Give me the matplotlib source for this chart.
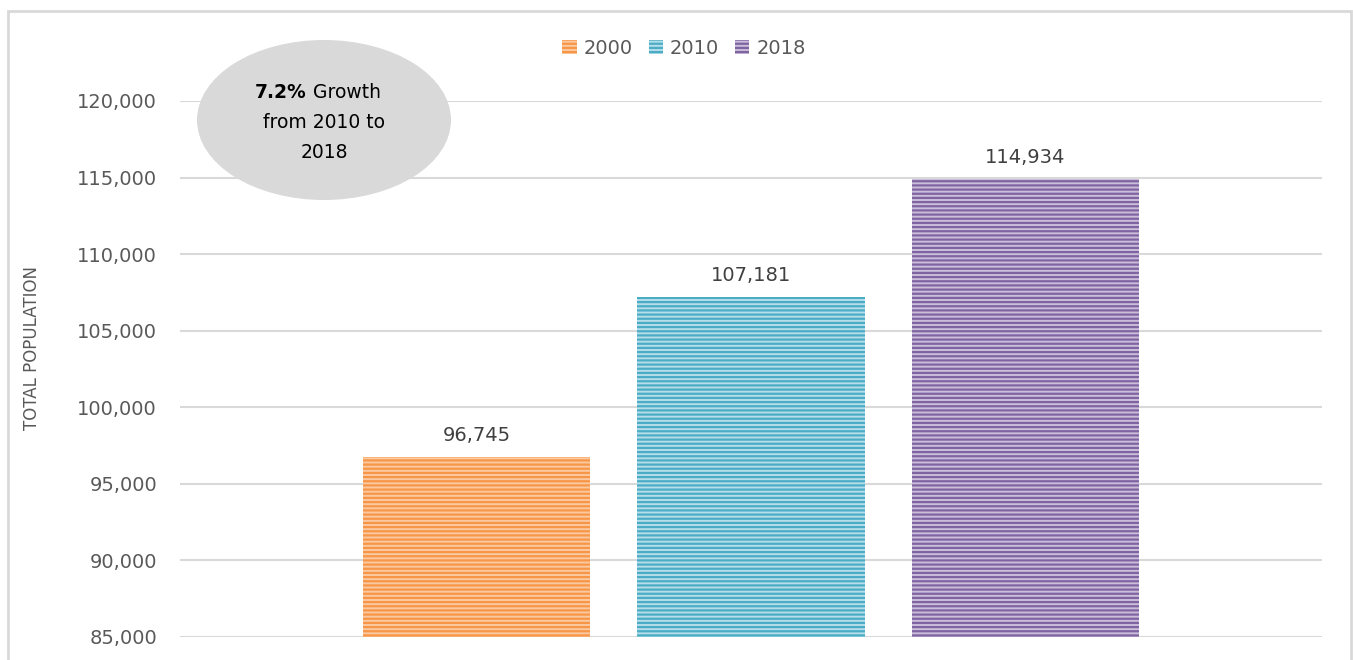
import matplotlib.pyplot as plt
from matplotlib.patches import Ellipse, Rectangle

years = ['2000', '2010', '2018']
population = [96745, 107181, 114934]
yticks = [85000, 90000, 95000, 100000, 105000, 110000, 115000, 120000]
colors = ['#F79646', '#4BACC6', '#8064A2']
light = ['#FBC9A1', '#B5DEE9', '#CBBEDB']

plt.rcParams['font.family'] = ['DejaVu Sans']
plt.rcParams['hatch.linewidth'] = 1.6

fig = plt.figure(figsize=(13.53, 6.60), dpi=100)
ax = fig.add_axes([180 / 1353, 1 - 637 / 660, 1142 / 1353, 536 / 660])

# outer chart border
fig.add_artist(Rectangle((8 / 1353, -0.05), 1343 / 1353, 1.05 - 11 / 660,
                         transform=fig.transFigure, fill=False,
                         edgecolor='#D9D9D9', linewidth=2))

for i, (yr, val) in enumerate(zip(years, population)):
    ax.bar(i, val - 85000, bottom=85000, width=0.827, color=light[i],
           edgecolor=colors[i], hatch='----', linewidth=0, label=yr, zorder=2)
    ax.text(i, val + 1400, f'{val:,}', ha='center', va='center', fontsize=14,
            color='#404040', zorder=3,
            bbox=dict(facecolor='white', edgecolor='none', pad=4))

ax.set_xlim(1 - 2.08, 1 + 2.08)
ax.set_ylim(85000, 120000)
ax.set_yticks(yticks)
ax.set_yticklabels([f'{t:,}' for t in yticks], fontsize=14, color='#595959')
ax.set_xticks([])
ax.tick_params(axis='y', length=0, pad=16.5)
ax.grid(axis='y', color='#D9D9D9', linewidth=1.5, zorder=0)
ax.set_axisbelow(True)
for s in ax.spines.values():
    s.set_visible(False)
ax.set_ylabel('TOTAL POPULATION', fontsize=12, color='#595959')
ax.yaxis.set_label_coords(-0.1217, 0.539)

fig.legend(loc='center', bbox_to_anchor=(684 / 1353, 1 - 48 / 660), ncol=3,
           frameon=False, fontsize=14, handlelength=0.75, handleheight=0.75,
           handletextpad=0.35, columnspacing=0.8, labelcolor='#595959')

# callout bubble
fig.add_artist(Ellipse((324 / 1353, 1 - 120 / 660), 254 / 1353, 160 / 660,
                       transform=fig.transFigure, facecolor='#D9D9D9',
                       edgecolor='none', zorder=5))
fig.text(307 / 1353, 1 - 93 / 660, '7.2%', fontsize=13.5, fontweight='bold',
         ha='right', va='center', color='black', zorder=6)
fig.text(307 / 1353, 1 - 93 / 660, ' Growth', fontsize=13.5,
         ha='left', va='center', color='black', zorder=6)
fig.text(324 / 1353, 1 - 123 / 660, 'from 2010 to', fontsize=13.5,
         ha='center', va='center', color='black', zorder=6)
fig.text(324 / 1353, 1 - 153 / 660, '2018', fontsize=13.5,
         ha='center', va='center', color='black', zorder=6)

fig.savefig('out.png', dpi=100)
